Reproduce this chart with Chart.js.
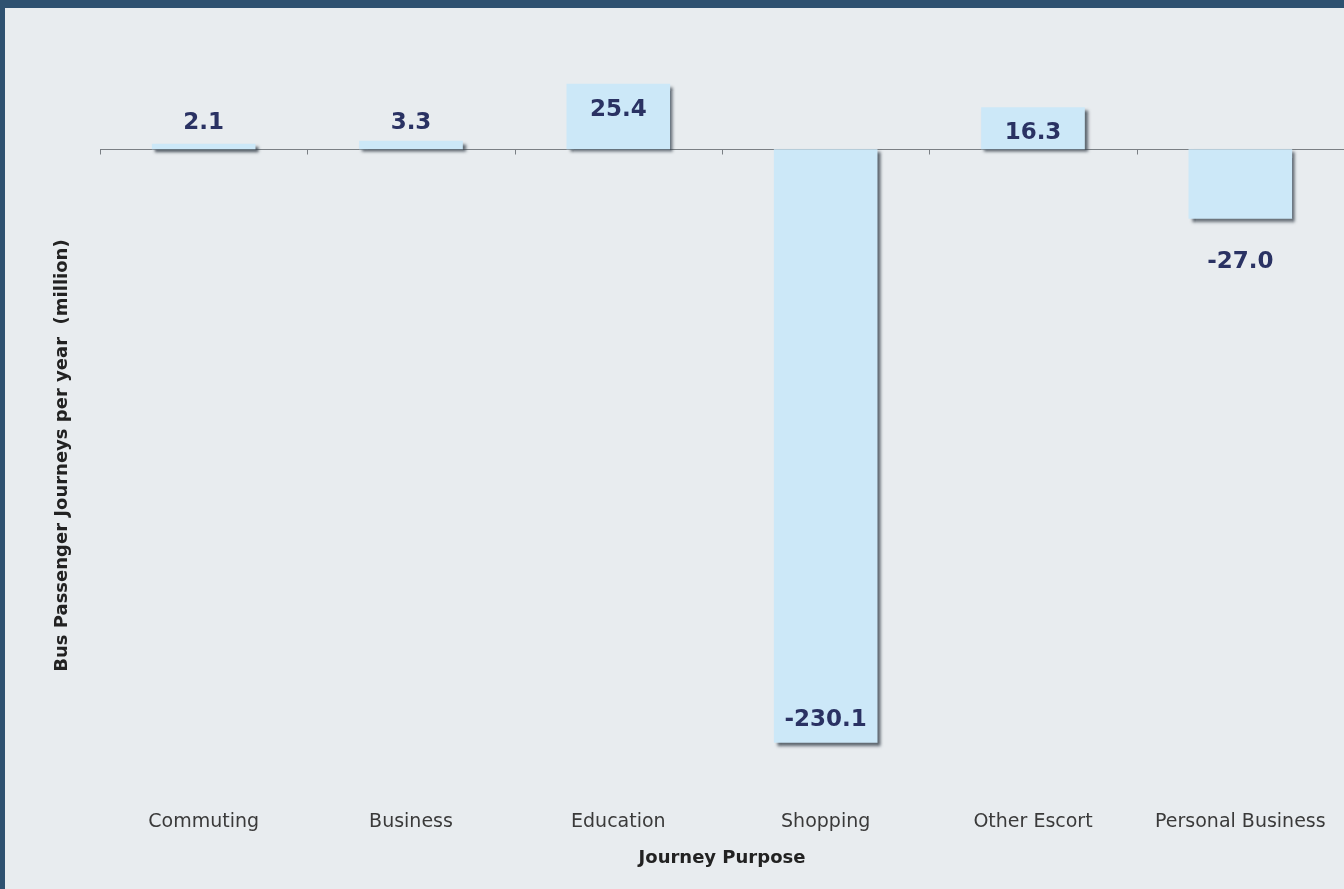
<!DOCTYPE html>
<html>
<head>
<meta charset="utf-8">
<script src="https://cdn.jsdelivr.net/npm/chart.js@4/dist/chart.umd.min.js"></script>
<style>
  html, body { margin: 0; padding: 0; background: #2e5170; }
  #frame { position: absolute; left: 5px; top: 8px; width: 1339px; height: 881px; background: #e8ecef; }
</style>
</head>
<body>
<div id="frame"><canvas id="c"></canvas></div>
<script>
// Change in bus passenger journeys by purpose (million per year)
const categories = ['Commuting', 'Business', 'Education', 'Shopping', 'Other Escort', 'Personal Business'];
const journeyChange = [2.1, 3.3, 25.4, -230.1, 16.3, -27.0];
const valueLabels = ['2.1', '3.3', '25.4', '-230.1', '16.3', '-27.0'];
const yAxisTitle = 'Bus Passenger Journeys per year  (million)';

const FONT = '"DejaVu Sans", Verdana, sans-serif';

// Soft drop shadow on the bars
const barShadow = {
  id: 'barShadow',
  beforeDatasetDraw(chart) {
    const ctx = chart.ctx;
    ctx.save();
    ctx.shadowColor = 'rgba(55,65,75,0.8)';
    ctx.shadowBlur = 3;
    ctx.shadowOffsetX = 3;
    ctx.shadowOffsetY = 3;
  },
  afterDatasetDraw(chart) {
    chart.ctx.restore();
  }
};

// Zero axis line with small ticks at category boundaries
const zeroAxis = {
  id: 'zeroAxis',
  beforeDatasetsDraw(chart) {
    const ctx = chart.ctx;
    const y = chart.scales.y;
    const y0 = Math.round(y.getPixelForValue(0)) + 0.5;
    ctx.save();
    ctx.strokeStyle = '#7a7f84';
    ctx.lineWidth = 1;
    ctx.beginPath();
    ctx.moveTo(chart.chartArea.left, y0);
    ctx.lineTo(chart.chartArea.right, y0);
    const n = categories.length;
    const step = (chart.chartArea.right - chart.chartArea.left) / n;
    for (let i = 0; i <= n; i++) {
      const xi = Math.round(chart.chartArea.left + i * step) + 0.5;
      ctx.moveTo(xi, y0);
      ctx.lineTo(xi, y0 + 5);
    }
    ctx.stroke();
    ctx.restore();
  }
};

// Value labels: inside tall bars, outside short ones
const valueLabelPlugin = {
  id: 'valueLabels',
  afterDatasetsDraw(chart) {
    const ctx = chart.ctx;
    const meta = chart.getDatasetMeta(0);
    const area = chart.chartArea;
    ctx.save();
    ctx.font = 'bold 23px ' + FONT;
    ctx.fillStyle = '#2a3263';
    ctx.textAlign = 'center';
    ctx.textBaseline = 'middle';
    meta.data.forEach((bar, i) => {
      const v = journeyChange[i];
      let ty;
      if (v >= 0) {
        const h = bar.base - bar.y;
        ty = h > 40 ? bar.y + 26 : bar.base - 26;
      } else {
        ty = bar.y + 43;
        if (ty + 14 > area.bottom) ty = bar.y - 23;
      }
      ctx.fillText(valueLabels[i], bar.x, ty);
    });
    ctx.restore();
  }
};

// Vertical axis title, centred on the plotted band
const yTitlePlugin = {
  id: 'yTitle',
  afterDraw(chart) {
    const ctx = chart.ctx;
    ctx.save();
    ctx.font = 'bold 18px ' + FONT;
    ctx.fillStyle = '#222';
    ctx.textAlign = 'center';
    ctx.textBaseline = 'middle';
    ctx.translate(57, chart.height * 0.508);
    ctx.rotate(-Math.PI / 2);
    ctx.fillText(yAxisTitle, 0, 0);
    ctx.restore();
  }
};

new Chart(document.getElementById('c'), {
  type: 'bar',
  data: {
    labels: categories,
    datasets: [{
      data: journeyChange,
      backgroundColor: '#cce8f8',
      borderWidth: 0,
      barPercentage: 0.5,
      categoryPercentage: 1.0
    }]
  },
  options: {
    responsive: true,
    maintainAspectRatio: false,
    animation: false,
    layout: { padding: { top: 38, left: 40, right: 0, bottom: 20 } },
    plugins: {
      legend: { display: false },
      tooltip: { enabled: false }
    },
    scales: {
      x: {
        grid: { display: false, drawTicks: false },
        border: { display: false },
        ticks: {
          color: '#3a3a3a',
          font: { family: FONT, size: 19 },
          padding: 17,
          maxRotation: 0
        },
        afterFit(scale) { scale.height = 75; },
        title: {
          display: true,
          text: 'Journey Purpose',
          color: '#222',
          font: { family: FONT, size: 18, weight: 'bold' },
          padding: { top: 0, bottom: 0 }
        }
      },
      y: {
        min: -250,
        max: 40,
        grid: { display: false, drawTicks: false },
        border: { display: false },
        ticks: { display: false },
        afterFit(scale) { scale.width = 55; }
      }
    }
  },
  plugins: [zeroAxis, barShadow, valueLabelPlugin, yTitlePlugin]
});
</script>
</body>
</html>
